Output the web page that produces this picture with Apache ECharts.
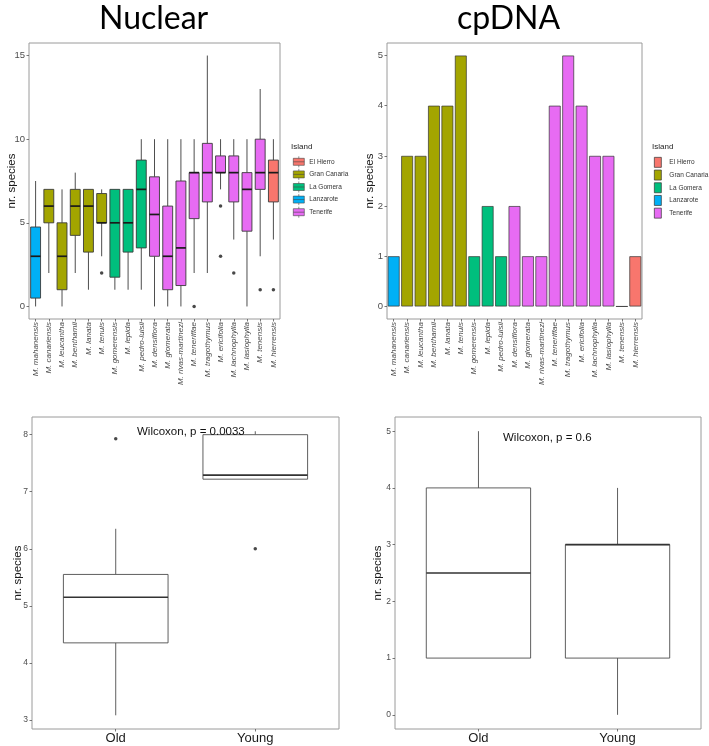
<!DOCTYPE html>
<html lang="en">
<head>
    <meta charset="utf-8">
    <title>Nuclear / cpDNA</title>
    <script src="https://cdn.jsdelivr.net/npm/echarts@6.0.0/dist/echarts.min.js"></script>
</head>
<body style="margin:0;background:#fff;">

    <div id="main" style="width:709px;height:746px;"></div>

<script type="text/javascript">

    // species on the x axis of the two top panels
    var species = ['M. mahanensis', 'M. canariensis', 'M. leucantha', 'M. benthamii', 'M. lanata', 'M. tenuis',
        'M. gomerensis', 'M. lepida', 'M. pedro-luisii', 'M. densiflora', 'M. glomerata', 'M. rivas-martinezi',
        'M. teneriffae', 'M. tragothymus', 'M. ericifolia', 'M. lachnophylla', 'M. lasiophylla', 'M. tenensis',
        'M. hierrensis'];
    var speciesIsland = ['Lanzarote', 'Gran Canaria', 'Gran Canaria', 'Gran Canaria', 'Gran Canaria', 'Gran Canaria',
        'La Gomera', 'La Gomera', 'La Gomera', 'Tenerife', 'Tenerife', 'Tenerife',
        'Tenerife', 'Tenerife', 'Tenerife', 'Tenerife', 'Tenerife', 'Tenerife',
        'El Hierro'];
    var islands = ['El Hierro', 'Gran Canaria', 'La Gomera', 'Lanzarote', 'Tenerife'];
    var islandColors = ['#F8766D', '#A3A500', '#00BF7D', '#00B0F6', '#E76BF3'];

    // Nuclear: [low whisker, q1, median, q3, high whisker]
    var nuclearBoxes = [
        [0, 0.5, 3, 4.75, 7.5],
        [2, 5, 6, 7, 7],
        [0, 1, 3, 5, 7],
        [2, 4.25, 6, 7, 8],
        [1, 3.25, 6, 7, 7],
        [3, 5, 5, 6.75, 7],
        [1, 1.75, 5, 7, 7],
        [1, 3.25, 5, 7, 7],
        [1, 3.5, 7, 8.75, 10],
        [0, 3, 5.5, 7.75, 10],
        [0, 1, 3, 6, 10],
        [0, 1.25, 3.5, 7.5, 10],
        [2, 5.25, 8, 8, 10],
        [2, 6.25, 8, 9.75, 15],
        [7, 8, 8, 9, 10],
        [4, 6.25, 8, 9, 10],
        [0, 4.5, 7, 8, 10],
        [3, 7, 8, 10, 13],
        [4, 6.25, 8, 8.75, 10]
    ];
    // [species index, value]
    var nuclearOutliers = [[5, 2], [12, 0], [14, 6], [14, 3], [15, 2], [17, 1], [18, 1]];

    // cpDNA haplotype counts
    var cpdnaCounts = [1, 3, 3, 4, 4, 5, 1, 2, 1, 2, 1, 1, 4, 5, 4, 3, 3, 0, 1];

    // bottom panels
    var ageGroups = ['Old', 'Young'];
    var nuclearAgeBoxes = [[3.08, 4.35, 5.15, 5.55, 6.35], [7.22, 7.22, 7.29, 8.0, 8.06]];
    var nuclearAgeOutliers = [[1, 7.93], [2, 6.0]];
    var cpdnaAgeBoxes = [[1, 1, 2.5, 4, 5], [0, 1, 3, 3, 4]];

    var nuclearTicks = [0, 5, 10, 15];
    var cpdnaTicks = [0, 1, 2, 3, 4, 5];
    var nuclearAgeTicks = [3, 4, 5, 6, 7, 8];

    var myChart = echarts.init(document.getElementById('main'));

    function boxRender(frac, lineColor, medianColor) {
        return function (params, api) {
            var x = api.value(0);
            var lo = api.coord([x, api.value(1)]);
            var q1 = api.coord([x, api.value(2)]);
            var md = api.coord([x, api.value(3)]);
            var q3 = api.coord([x, api.value(4)]);
            var hi = api.coord([x, api.value(5)]);
            var w = api.size([1, 0])[0] * frac;
            return {
                type: 'group',
                children: [
                    {type: 'line', shape: {x1: lo[0], y1: lo[1], x2: q1[0], y2: q1[1]},
                        style: {stroke: lineColor, lineWidth: 0.9}},
                    {type: 'line', shape: {x1: q3[0], y1: q3[1], x2: hi[0], y2: hi[1]},
                        style: {stroke: lineColor, lineWidth: 0.9}},
                    {type: 'rect', shape: {x: q3[0] - w / 2, y: q3[1], width: w, height: q1[1] - q3[1]},
                        style: {fill: api.visual('color'), stroke: lineColor, lineWidth: 0.9}},
                    {type: 'line', shape: {x1: md[0] - w / 2, y1: md[1], x2: md[0] + w / 2, y2: md[1]},
                        style: {stroke: medianColor, lineWidth: 1.7}}
                ]
            };
        };
    }

    var nuclearData = nuclearBoxes.map(function (b, i) {
        return {
            value: [i].concat(b),
            itemStyle: {color: islandColors[islands.indexOf(speciesIsland[i])]}
        };
    });

    var series = [{
        type: 'custom',
        xAxisIndex: 0, yAxisIndex: 0,
        renderItem: boxRender(0.75, '#3a3a3a', '#1a1a1a'),
        encode: {x: 0, y: [1, 2, 3, 4, 5]},
        data: nuclearData,
        z: 2
    }, {
        type: 'scatter',
        xAxisIndex: 0, yAxisIndex: 0,
        symbolSize: 3.5,
        itemStyle: {color: '#1a1a1a'},
        data: nuclearOutliers,
        z: 3
    }];

    islands.forEach(function (isl, k) {
        series.push({
            name: isl,
            type: 'bar',
            xAxisIndex: 1, yAxisIndex: 1,
            barWidth: '88%',
            barGap: '-100%',
            itemStyle: {color: islandColors[k], borderColor: '#333', borderWidth: 0.7},
            data: cpdnaCounts.map(function (v, i) { return speciesIsland[i] === isl ? v : null; })
        });
    });

    series.push({
        type: 'custom',
        xAxisIndex: 2, yAxisIndex: 2,
        renderItem: boxRender(0.75, '#4d4d4d', '#333'),
        encode: {x: 0, y: [1, 2, 3, 4, 5]},
        itemStyle: {color: '#fff'},
        data: nuclearAgeBoxes.map(function (b, i) { return [i + 1].concat(b); })
    }, {
        type: 'scatter',
        xAxisIndex: 2, yAxisIndex: 2,
        symbolSize: 3.5,
        itemStyle: {color: '#1a1a1a'},
        data: nuclearAgeOutliers,
        z: 3
    }, {
        type: 'custom',
        xAxisIndex: 3, yAxisIndex: 3,
        renderItem: boxRender(0.75, '#4d4d4d', '#333'),
        encode: {x: 0, y: [1, 2, 3, 4, 5]},
        itemStyle: {color: '#fff'},
        data: cpdnaAgeBoxes.map(function (b, i) { return [i + 1].concat(b); })
    });

    function speciesAxis(gi) {
        return {
            type: 'category', gridIndex: gi, data: species,
            axisLine: {show: false, onZero: false},
            axisTick: {show: true, alignWithLabel: true, length: 2.5, lineStyle: {color: '#555', width: 0.8}},
            axisLabel: {interval: 0, rotate: 90, fontSize: 8, fontStyle: 'italic', color: '#4d4d4d', margin: 3}
        };
    }

    function groupAxis(gi) {
        return {
            type: 'value', gridIndex: gi, min: 0.4, max: 2.6,
            splitLine: {show: false},
            axisLine: {show: false, onZero: false},
            axisTick: {show: true, length: 2.5, lineStyle: {color: '#555', width: 0.8}, customValues: [1, 2]},
            axisLabel: {fontSize: 13, color: '#1a1a1a', margin: 3, customValues: [1, 2],
                formatter: function (v) { return ageGroups[Math.round(v) - 1]; }}
        };
    }

    function countAxis(gi, min, max, ticks, fs, gap) {
        return {
            type: 'value', gridIndex: gi, min: min, max: max,
            name: 'nr. species', nameLocation: 'middle', nameGap: gap, nameMoveOverlap: false,
            nameTextStyle: {fontSize: 11.5, color: '#1a1a1a'},
            splitLine: {show: false},
            axisLine: {show: false, onZero: false},
            axisTick: {show: true, length: 2.5, lineStyle: {color: '#555', width: 0.8}, customValues: ticks},
            axisLabel: {fontSize: fs, color: '#4d4d4d', margin: 4, customValues: ticks}
        };
    }

    var gridStyle = {show: true, borderColor: '#9a9a9a', borderWidth: 1, backgroundColor: '#fff'};
    var bigTitle = {fontSize: 32, fontWeight: 'normal', color: '#000', fontFamily: 'Lato'};

    option = {
        animation: false,
        backgroundColor: '#fff',
        textStyle: {fontFamily: 'Liberation Sans'},
        title: [
            {text: 'Nuclear', left: 99, top: 3, padding: 0, textStyle: bigTitle},
            {text: 'cpDNA', left: 457, top: 3, padding: 0, textStyle: bigTitle},
            {text: 'Island', left: 291, top: 143, padding: 0,
                textStyle: {fontSize: 8, fontWeight: 'normal', color: '#222'}},
            {text: 'Island', left: 652, top: 143, padding: 0,
                textStyle: {fontSize: 8, fontWeight: 'normal', color: '#222'}},
            {text: 'Wilcoxon, p = 0.0033', left: 137, top: 426, padding: 0,
                textStyle: {fontSize: 11.5, fontWeight: 'normal', color: '#111'}},
            {text: 'Wilcoxon, p = 0.6', left: 503, top: 432, padding: 0,
                textStyle: {fontSize: 11.5, fontWeight: 'normal', color: '#111'}}
        ],
        legend: [{
            orient: 'vertical', left: 293, top: 156, padding: 0,
            selectedMode: false,
            itemWidth: 11, itemHeight: 11, itemGap: 1,
            textStyle: {fontSize: 6.5, color: '#333'},
            itemStyle: {borderColor: '#444', borderWidth: 0.6},
            data: islands.map(function (n) {
                return {name: n, icon: 'path://M0,2H11V9H0Z M0,5.5H11 M5.5,0V2 M5.5,9V11'};
            })
        }, {
            orient: 'vertical', left: 654, top: 157, padding: 0,
            selectedMode: false,
            itemWidth: 7, itemHeight: 10, itemGap: 2,
            textStyle: {fontSize: 6.5, color: '#333', padding: [0, 0, 0, 3]},
            itemStyle: {borderColor: '#333', borderWidth: 0.7},
            data: islands.map(function (n) { return {name: n, icon: 'rect'}; })
        }],
        grid: [
            Object.assign({left: 29, top: 43, width: 251, height: 276}, gridStyle),
            Object.assign({left: 387, top: 43, width: 255, height: 276}, gridStyle),
            Object.assign({left: 32, top: 417, width: 307, height: 312}, gridStyle),
            Object.assign({left: 395, top: 417, width: 306, height: 312}, gridStyle)
        ],
        xAxis: [speciesAxis(0), speciesAxis(1), groupAxis(2), groupAxis(3)],
        yAxis: [
            countAxis(0, -0.75, 15.75, nuclearTicks, 9.5, 11),
            countAxis(1, -0.25, 5.25, cpdnaTicks, 9.5, 11),
            countAxis(2, 2.84, 8.31, nuclearAgeTicks, 8.5, 8),
            countAxis(3, -0.25, 5.25, cpdnaTicks, 8.5, 11)
        ],
        series: series
    };

    myChart.setOption(option);

</script>

</body>
</html>
